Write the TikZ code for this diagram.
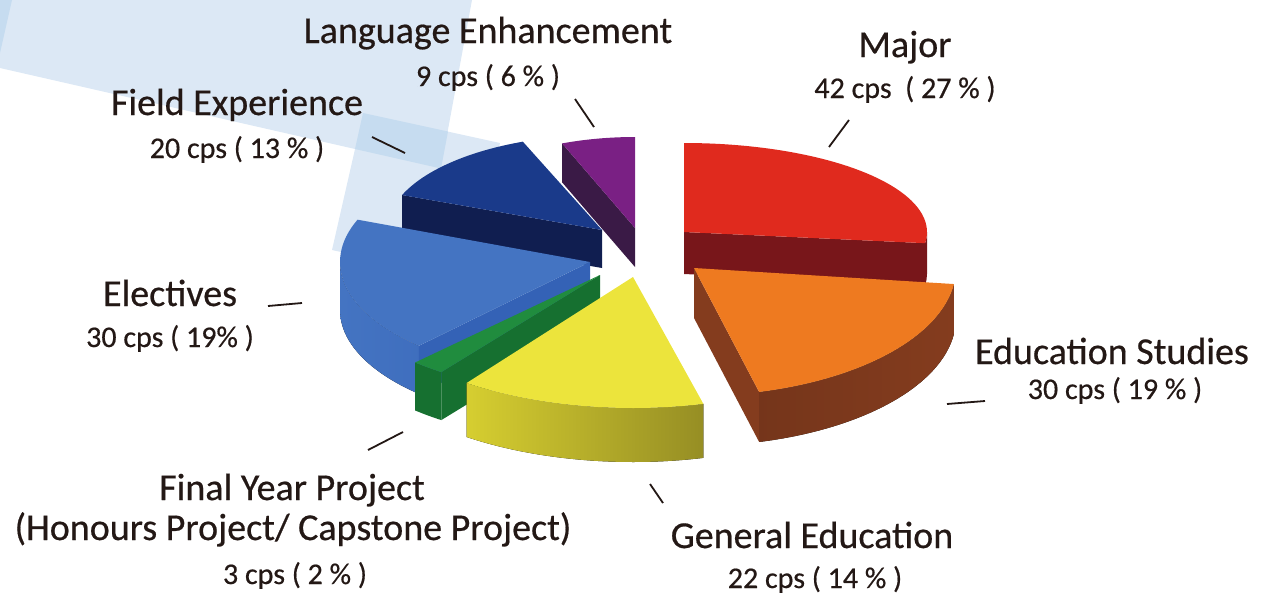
\documentclass[tikz,border=0pt]{standalone}
\usepackage{fontspec}
\setmainfont{Carlito}
\newfontfamily\labelfont[FakeBold=0.5]{Carlito}

\definecolor{inkblack}{RGB}{35,24,21}
\definecolor{bandlight}{RGB}{220,232,245}
\definecolor{banddark}{RGB}{198,220,240}
\definecolor{majtop}{RGB}{224,42,30}
\definecolor{majside}{RGB}{120,22,26}
\definecolor{edutop}{RGB}{238,122,32}
\definecolor{eduside}{RGB}{132,60,30}
\definecolor{gentop}{RGB}{236,228,60}
\definecolor{genside}{RGB}{214,206,48}
\definecolor{gendark}{RGB}{150,142,36}
\definecolor{fyptop}{RGB}{32,140,62}
\definecolor{fypside}{RGB}{22,112,48}
\definecolor{eletop}{RGB}{68,116,194}
\definecolor{eleside}{RGB}{52,98,182}
\definecolor{fldtop}{RGB}{26,58,138}
\definecolor{fldside}{RGB}{16,30,80}
\definecolor{lantop}{RGB}{122,32,132}
\definecolor{lanside}{RGB}{58,26,70}

\tikzset{
  labeltitle/.style={font=\labelfont\fontsize{38}{40}\selectfont, text=inkblack, anchor=base, inner sep=0pt},
  labelvalue/.style={font=\labelfont\fontsize{30}{34}\selectfont, text=inkblack, anchor=base, inner sep=0pt},
  leader/.style={draw=inkblack, line width=1.8pt},
  genshade/.style={left color=genside, right color=gendark},
  edushade/.style={left color=eduside!85!black, right color=eduside},
  eleshade/.style={left color=eletop, right color=eleside},
}

\begin{document}
\begin{tikzpicture}[x=1pt,y=-1pt]
	\useasboundingbox (0,0) rectangle (1263,595);

	% background
	\fill[bandlight] (0,0) -- (389,0) -- (355,149) -- (0,68) -- cycle
		(389,0) -- (472,0) -- (422,270) -- (332,250) -- cycle
		(363,113) -- (500,143) -- (492,178) -- (355,149) -- cycle;
	\fill[banddark] (363,113) -- (448,131.5) -- (441,168.5) -- (355,149) -- cycle;
	\fill[banddark] (0,0) -- (12,0) -- (0,53) -- cycle;

	% Language Enhancement
	\fill[lanside] (635,228) -- ++(248.4:198 and 91) -- ++(0,39) -- ++(68.4:198 and 91) -- cycle;
	\fill[lantop] (635,228) -- ++(248.4:198 and 91) arc[start angle=248.4, end angle=270, x radius=198, y radius=91] -- cycle;

	% Field Experience
	\fill[fldside] (602,230) -- ++(201.6:215 and 95) -- ++(0,38) -- ++(21.6:215 and 95) -- cycle;
	\fill[fldtop] (602,230) -- ++(201.6:215 and 95) arc[start angle=201.6, end angle=248.4, x radius=215, y radius=95] -- cycle;

	% Major
	\fill[majside] (684,232) ++(0:243 and 89) arc[start angle=0, end angle=7.2, x radius=243, y radius=89] -- ++(0,42) arc[start angle=7.2, end angle=0, x radius=243, y radius=89] -- cycle;
	\fill[majside] (684,232) -- ++(7.2:243 and 89) -- ++(0,42) -- ++(187.2:243 and 89) -- cycle;
	\fill[majtop] (684,232) -- ++(-90:243 and 89) arc[start angle=-90, end angle=7.2, x radius=243, y radius=89] -- cycle;

	% Electives
	\fill[eleshade] (590,262) ++(133.2:250 and 115) arc[start angle=133.2, end angle=180, x radius=250, y radius=115] -- ++(0,48) arc[start angle=180, end angle=133.2, x radius=250, y radius=115] -- cycle;
	\fill[eleside] (590,262) -- ++(133.2:250 and 115) -- ++(0,48) -- ++(313.2:250 and 115) -- cycle;
	\fill[eletop] (590,262) -- ++(133.2:250 and 115) arc[start angle=133.2, end angle=201.6, x radius=250, y radius=115] -- cycle;

	% Education Studies
	\fill[edushade] (694,268) ++(7.2:262 and 128) arc[start angle=7.2, end angle=75.6, x radius=262, y radius=128] -- ++(0,50) arc[start angle=75.6, end angle=7.2, x radius=262, y radius=128] -- cycle;
	\fill[eduside] (694,268) -- ++(75.6:262 and 128) -- ++(0,50) -- ++(255.6:262 and 128) -- cycle;
	\fill[edutop] (694,268) -- ++(7.2:262 and 128) arc[start angle=7.2, end angle=75.6, x radius=262, y radius=128] -- cycle;

	% Final Year Project
	\fill[fypside] (600,275) ++(126:270 and 120) arc[start angle=126, end angle=133.2, x radius=270, y radius=120] -- ++(0,48) arc[start angle=133.2, end angle=126, x radius=270, y radius=120] -- cycle;
	\fill[fypside] (600,275) -- ++(126:270 and 120) -- ++(0,48) -- ++(306:270 and 120) -- cycle;
	\fill[fyptop] (600,275) -- ++(126:270 and 120) arc[start angle=126, end angle=133.2, x radius=270, y radius=120] -- cycle;

	% General Education
	\fill[genshade] (633,277) ++(75.6:283 and 131) arc[start angle=75.6, end angle=126, x radius=283, y radius=131] -- ++(0,54) arc[start angle=126, end angle=75.6, x radius=283, y radius=131] -- cycle;
	\fill[gentop] (633,277) -- ++(75.6:283 and 131) arc[start angle=75.6, end angle=126, x radius=283, y radius=131] -- cycle;

	% labels
	\node[labeltitle] (lantitle) at (488,43) {Language Enhancement};
	\node[labelvalue] (lanvalue) at (488,86) {9 cps ( 6 \% )};
	\node[labeltitle] (majtitle) at (905,57) {Major};
	\node[labelvalue] (majvalue) at (905,98) {42 cps \ ( 27 \% )};
	\node[labeltitle] (fldtitle) at (237,115) {Field Experience};
	\node[labelvalue] (fldvalue) at (237,158) {20 cps ( 13 \% )};
	\node[labeltitle] (eletitle) at (170,306) {Electives};
	\node[labelvalue] (elevalue) at (170,347) {30 cps ( 19\% )};
	\node[labeltitle] (edutitle) at (1112,364) {Education Studies};
	\node[labelvalue] (eduvalue) at (1115,399) {30 cps ( 19 \% )};
	\node[labeltitle] (gentitle) at (812,548) {General Education};
	\node[labelvalue] (genvalue) at (815,588) {22 cps ( 14 \% )};
	\node[labeltitle] (fyptitle) at (292,500) {Final Year Project};
	\node[labeltitle] (fypsub) at (293,540) {(Honours Project/ Capstone Project)};
	\node[labelvalue] (fypvalue) at (295,584) {3 cps ( 2 \% )};

	% leaders
	\coordinate (lanA) at (575,99);
	\coordinate (lanB) at (594,127);
	\coordinate (majA) at (849,120);
	\coordinate (majB) at (829,147);
	\coordinate (fldA) at (372,137);
	\coordinate (fldB) at (405,153);
	\coordinate (eleA) at (268,306);
	\coordinate (eleB) at (302,303);
	\coordinate (eduA) at (947,404);
	\coordinate (eduB) at (985,401);
	\coordinate (genA) at (650,484);
	\coordinate (genB) at (663,503);
	\coordinate (fypA) at (368,450);
	\coordinate (fypB) at (403,432);
	\draw[leader] (lanA) -- (lanB);
	\draw[leader] (majA) -- (majB);
	\draw[leader] (fldA) -- (fldB);
	\draw[leader] (eleA) -- (eleB);
	\draw[leader] (eduA) -- (eduB);
	\draw[leader] (genA) -- (genB);
	\draw[leader] (fypA) -- (fypB);
\end{tikzpicture}
\end{document}
